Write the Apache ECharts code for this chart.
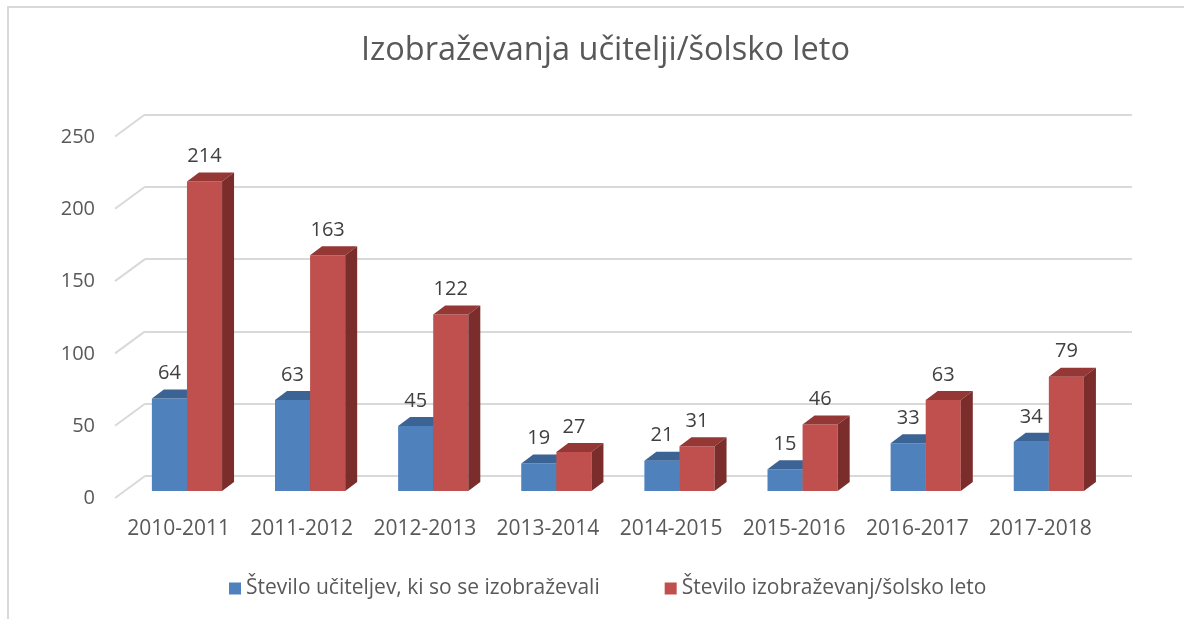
<!DOCTYPE html>
<html>
<head>
<meta charset="utf-8">
<script src="https://cdn.jsdelivr.net/npm/echarts@6/dist/echarts.min.js"></script>
<style>
  html, body { margin: 0; padding: 0; background: #fff; }
  #chart { width: 1184px; height: 619px; }
</style>
</head>
<body>
<div id="chart"></div>
<script>
var categories = ['2010-2011', '2011-2012', '2012-2013', '2013-2014', '2014-2015', '2015-2016', '2016-2017', '2017-2018'];
var teachers = [64, 63, 45, 19, 21, 15, 33, 34];
var trainings = [214, 163, 122, 27, 31, 46, 63, 79];
var yTicks = [0, 50, 100, 150, 200, 250];
var seriesNames = ['Število učiteljev, ki so se izobraževali', 'Število izobraževanj/šolsko leto'];

var FONT = '"Open Sans", "Noto Sans", sans-serif';
var DX = 12, DY = -9; // 3d depth of the boxes

// draws one box (front, top, side) + value label
function boxRenderer(slot, topColor, sideColor) {
  return function (params, api) {
    var cat = api.value(0), val = api.value(1);
    var base = api.coord([cat, 0]);
    var peak = api.coord([cat, val]);
    var band = api.size([1, 0])[0];
    var w = band * 0.285;
    var x0 = base[0] - w + slot * w;
    var py = peak[1], by = base[1];
    return {
      type: 'group',
      children: [{
        type: 'rect',
        shape: { x: x0, y: py, width: w, height: by - py },
        style: { fill: api.visual('color') }
      }, {
        type: 'polygon',
        shape: { points: [[x0, py], [x0 + w, py], [x0 + w + DX, py + DY], [x0 + DX, py + DY]] },
        style: { fill: topColor }
      }, {
        type: 'polygon',
        shape: { points: [[x0 + w, py], [x0 + w + DX, py + DY], [x0 + w + DX, by + DY], [x0 + w, by]] },
        style: { fill: sideColor }
      }, {
        type: 'text',
        style: {
          text: String(val), x: x0 + w / 2, y: py - 25,
          align: 'center', verticalAlign: 'middle',
          fill: '#404040', font: '20px ' + FONT
        }
      }]
    };
  };
}

// slanted lines at the left of the back wall
function slantRenderer(params, api) {
  var p = api.coord([0, api.value(0)]);
  return {
    type: 'line',
    shape: { x1: p[0], y1: p[1], x2: p[0] - 30, y2: p[1] + 22 },
    style: { stroke: '#d9d9d9', lineWidth: 2 }
  };
}

var chart = echarts.init(document.getElementById('chart'));
chart.setOption({
  backgroundColor: '#fff',
  animation: false,
  textStyle: { fontFamily: FONT },
  title: {
    text: 'Izobraževanja učitelji/šolsko leto',
    left: 356,
    top: 29,
    textStyle: { fontSize: 32.5, fontWeight: 'normal', color: '#595959', fontFamily: FONT }
  },
  legend: {
    data: seriesNames,
    bottom: 15,
    left: 224,
    itemWidth: 12,
    itemHeight: 12,
    itemGap: 65,
    icon: 'rect',
    textStyle: { fontSize: 21, color: '#595959', fontFamily: FONT }
  },
  graphic: [{
    type: 'polyline',
    shape: { points: [[8, 619], [8, 7], [1184, 7]] },
    style: { stroke: '#d9d9d9', lineWidth: 2, fill: null },
    silent: true
  }],
  grid: [
    { left: 145, right: 52, top: 114.5, bottom: 143 },   // back wall
    { left: 125.4, right: 73.6, top: 129.5, bottom: 128 }, // bars
    { left: 117, right: 82, top: 137, bottom: 120.5 }    // axis labels
  ],
  xAxis: [
    { gridIndex: 0, type: 'value', min: 0, max: 1, show: false },
    { gridIndex: 1, type: 'category', data: categories, show: false },
    {
      gridIndex: 2, type: 'category', data: categories,
      axisLine: { show: false }, axisTick: { show: false },
      axisLabel: { interval: 0, fontSize: 21, color: '#595959', margin: 20, fontFamily: FONT }
    }
  ],
  yAxis: [
    {
      gridIndex: 0, type: 'value', min: 0, max: 250, interval: 50,
      axisLine: { show: false }, axisTick: { show: false }, axisLabel: { show: false },
      splitLine: { lineStyle: { color: '#d9d9d9', width: 2 } }
    },
    { gridIndex: 1, type: 'value', min: 0, max: 250, interval: 50, show: false, splitLine: { show: false } },
    {
      gridIndex: 2, type: 'value', min: 0, max: 250, interval: 50,
      axisLine: { show: false }, axisTick: { show: false }, splitLine: { show: false },
      axisLabel: { fontSize: 20, color: '#595959', margin: 22, fontFamily: FONT }
    }
  ],
  series: [{
    type: 'custom',
    xAxisIndex: 0, yAxisIndex: 0,
    renderItem: slantRenderer,
    data: yTicks.map(function (v) { return [v]; }),
    encode: { y: 0 },
    silent: true
  }, {
    name: seriesNames[0],
    type: 'custom',
    xAxisIndex: 1, yAxisIndex: 1,
    itemStyle: { color: '#4F81BD' },
    renderItem: boxRenderer(0, '#3B6393', '#2F4F76'),
    data: teachers.map(function (v, i) { return [i, v]; }),
    encode: { x: 0, y: 1 }
  }, {
    name: seriesNames[1],
    type: 'custom',
    xAxisIndex: 1, yAxisIndex: 1,
    itemStyle: { color: '#C0504D' },
    renderItem: boxRenderer(1, '#943735', '#7A2D2B'),
    data: trainings.map(function (v, i) { return [i, v]; }),
    encode: { x: 0, y: 1 }
  }]
});
</script>
</body>
</html>
